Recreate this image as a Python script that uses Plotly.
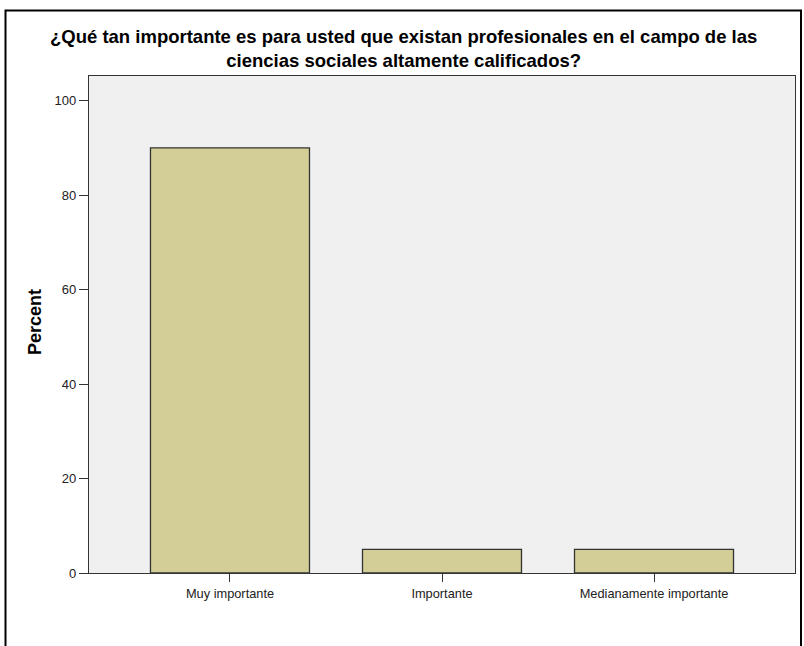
import plotly.graph_objects as go

categories = ["Muy importante", "Importante", "Medianamente importante"]
percent = [90, 5, 5]
y_ticks = [0, 20, 40, 60, 80, 100]

title_line1 = "¿Qué tan importante es para usted que existan profesionales en el campo de las"
title_line2 = "ciencias sociales altamente calificados?"
y_title = "Percent"

W, H = 804, 646
L, R, T, B = 89, 9, 76, 73
pw, ph = W - L - R, H - T - B
FONT = "Liberation Sans, Arial, sans-serif"


def px_x(x):
    return (x - L) / pw


def px_y(y):
    return (H - B - y) / ph


fig = go.Figure()
fig.add_trace(go.Bar(
    x=categories, y=percent, width=0.75,
    marker=dict(color="#D3CE97", line=dict(color="#333333", width=1.3)),
    hoverinfo="x+y",
))

fig.update_layout(
    width=W, height=H,
    margin=dict(l=L, r=R, t=T, b=B),
    paper_bgcolor="white",
    plot_bgcolor="#F0F0F0",
    showlegend=False,
    font=dict(family=FONT, color="#222222", size=13),
)
fig.update_xaxes(
    range=[-0.665, 2.665], showline=True, linecolor="#333333", linewidth=1.3, mirror=True,
    ticks="outside", ticklen=8, tickcolor="#333333", tickwidth=1.3, showgrid=False,
    tickfont=dict(size=12.8, color="#222222"),
)
fig.update_yaxes(
    range=[0, 105.2], tickvals=y_ticks, showline=True, linecolor="#333333", linewidth=1.3, mirror=True,
    ticks="outside", ticklen=9, tickcolor="#333333", tickwidth=1.3, showgrid=False, zeroline=False,
    tickfont=dict(size=13, color="#222222"),
)

# title (two lines in one text block)
fig.add_annotation(text="<b>%s<br>%s</b>" % (title_line1, title_line2), xref="paper", yref="paper",
                   x=px_x(403), y=px_y(48.5), xanchor="center", yanchor="middle", showarrow=False,
                   align="center", font=dict(family=FONT, size=18.5, color="#000000"))
# y-axis title
fig.add_annotation(text="<b>%s</b>" % y_title, xref="paper", yref="paper",
                   x=px_x(35), y=px_y(322), xanchor="center", yanchor="middle", showarrow=False,
                   textangle=-90, font=dict(family=FONT, size=18, color="#000000"))

# outer frame
fig.add_shape(type="rect", xref="paper", yref="paper",
              x0=px_x(5.5), x1=px_x(801), y0=px_y(660), y1=px_y(10.5),
              line=dict(color="#000000", width=2), fillcolor="rgba(0,0,0,0)", layer="above")

fig.write_html("out.html", config={"displayModeBar": False},
               post_script="document.body.style.margin='0';")
